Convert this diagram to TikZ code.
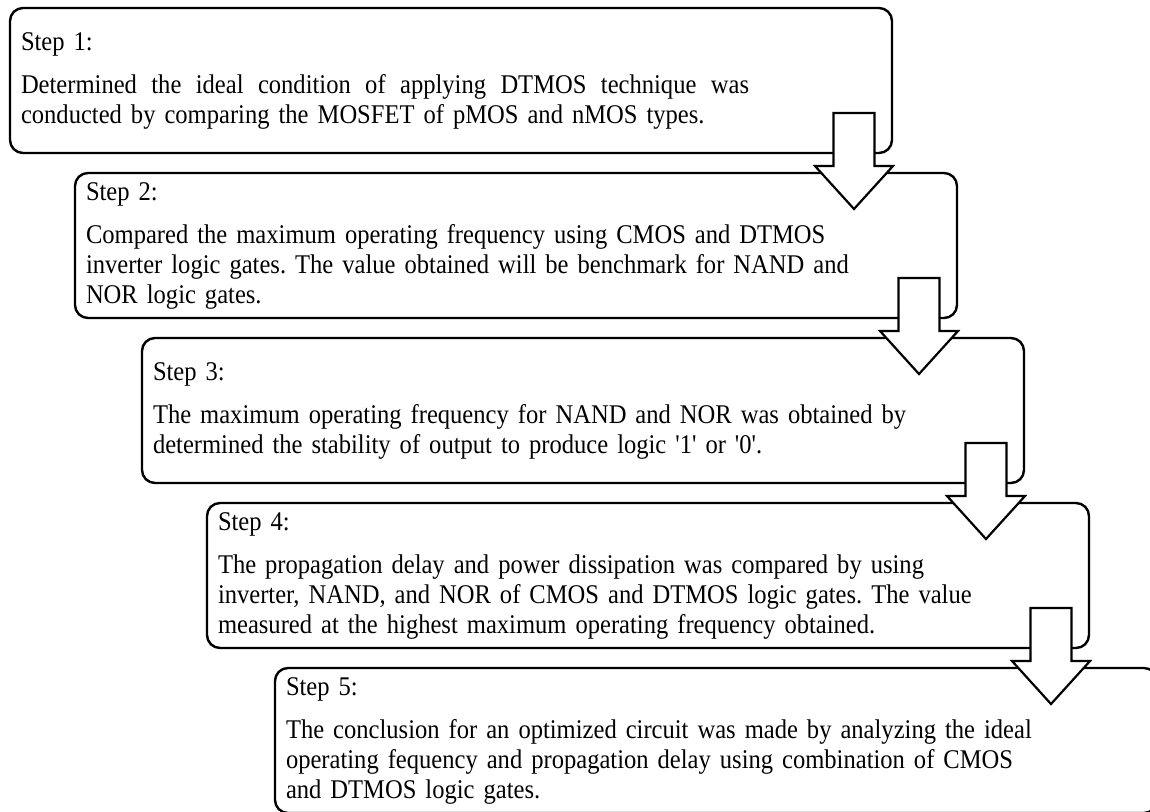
\documentclass[tikz,border=0pt]{standalone}
\usepackage{fontspec}
\newfontfamily\stepfont{Liberation Serif}[FakeStretch=0.91]

\tikzset{
  stepbox/.style={draw, line width=2.4pt, rounded corners=13pt, anchor=north west,
    minimum width=882pt, minimum height=145pt, text width=860pt,
    inner xsep=11pt, inner ysep=0pt, outer sep=0pt, align=left,
    font=\stepfont\fontsize{27}{30}\selectfont\frenchspacing},
  blockarrow/.style={draw, fill=white, line width=2.2pt, line join=miter}
}

\begin{document}
\begin{tikzpicture}[x=1pt,y=-1pt]
	\useasboundingbox (0,0) rectangle (1150,811);
	\clip (0,0) rectangle (1150,811);
	% steps
	\node [stepbox] (s1) at (10,8) {Step 1:\\[13pt]\makebox[728pt][l]{Determined\hfill the\hfill ideal\hfill condition\hfill of\hfill applying\hfill DTMOS\hfill technique\hfill was}\\conducted by comparing the MOSFET of pMOS and nMOS types.};
	\node [stepbox] (s2) at (75,173) {Step 2:\\[13pt]Compared the maximum operating frequency using CMOS and DTMOS\\inverter logic gates. The value obtained will be benchmark for NAND and\\NOR logic gates.};
	\node [stepbox] (s3) at (142,338) {Step 3:\\[13pt]The maximum operating frequency for NAND and NOR was obtained by\\determined the stability of output to produce logic '1' or '0'.};
	\node [stepbox] (s4) at (207,503) {Step 4:\\[13pt]The propagation delay and power dissipation was compared by using\\inverter, NAND, and NOR of CMOS and DTMOS logic gates. The value\\measured at the highest maximum operating frequency obtained.};
	\node [stepbox] (s5) at (275,668) {Step 5:\\[13pt]The conclusion for an optimized circuit was made by analyzing the ideal\\operating fequency and propagation delay using combination of CMOS\\and DTMOS logic gates.};
	% arrows
	\foreach \a in {s1,s2,s3,s4}
		\draw [blockarrow, shift={(\a.south east)}] (-58.5,-40) -- (-17.5,-40) -- (-17.5,13) -- (1,13) -- (-38,56) -- (-77,13) -- (-58.5,13) -- cycle;
\end{tikzpicture}
\end{document}
